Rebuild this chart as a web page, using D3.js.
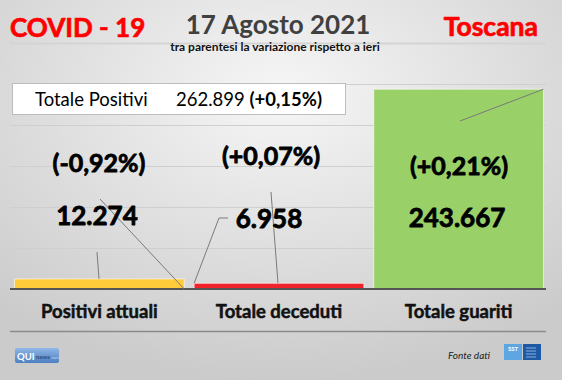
<!DOCTYPE html>
<html>
<head>
<meta charset="utf-8">
<script src="https://cdn.jsdelivr.net/npm/d3@7"></script>
<style>
  body { margin: 0; }
  svg { display: block; font-family: Lato, "Open Sans", sans-serif; }
  .heavy { paint-order: stroke; stroke-linejoin: round; }
</style>
</head>
<body>
<div class="canvas"></div>
<script>
const categories = ['Positivi attuali', 'Totale deceduti', 'Totale guariti'];
const values = [12274, 6958, 243667];
const valueLabels = ['12.274', '6.958', '243.667'];
const changeLabels = ['(-0,92%)', '(+0,07%)', '(+0,21%)'];
const barColors = ['#fecb3a', '#f2222a', '#99d068'];
const yTicks = [0, 50000, 100000, 150000, 200000, 250000];

const dims = { width: 562, height: 380 };
const plot = { left: 10, right: 548, top: 84, bottom: 289 };

const svg = d3
  .select('.canvas')
  .append('svg')
  .attr('width', dims.width)
  .attr('height', dims.height);

// background
const defs = svg.append('defs');
const bg = defs
  .append('radialGradient')
  .attr('id', 'bg')
  .attr('cx', '50%')
  .attr('cy', '25%')
  .attr('r', '75%');
bg.append('stop').attr('offset', '0%').attr('stop-color', '#f6f6f6');
bg.append('stop').attr('offset', '100%').attr('stop-color', '#cbcbcb');

svg
  .append('rect')
  .attr('width', dims.width)
  .attr('height', dims.height)
  .attr('fill', 'url(#bg)');

// header
svg
  .append('text')
  .attr('class', 'heavy')
  .attr('x', 10)
  .attr('y', 37)
  .attr('fill', '#ff0000')
  .attr('stroke', '#ff0000')
  .attr('stroke-width', 0.7)
  .attr('font-size', 26)
  .attr('font-weight', 'bold')
  .text('COVID - 19');

svg
  .append('text')
  .attr('x', 278)
  .attr('y', 34)
  .attr('text-anchor', 'middle')
  .attr('fill', '#404040')
  .attr('font-size', 26)
  .attr('font-weight', 'bold')
  .text('17 Agosto 2021');

svg
  .append('text')
  .attr('class', 'heavy')
  .attr('x', 538)
  .attr('y', 36)
  .attr('text-anchor', 'end')
  .attr('fill', '#ff0000')
  .attr('stroke', '#ff0000')
  .attr('stroke-width', 0.7)
  .attr('font-size', 26.5)
  .attr('font-weight', 'bold')
  .text('Toscana');

svg
  .append('line')
  .attr('x1', 10)
  .attr('x2', 546)
  .attr('y1', 43.5)
  .attr('y2', 43.5)
  .attr('stroke', '#d4d4d4')
  .attr('stroke-width', 2);

svg
  .append('text')
  .attr('x', 275)
  .attr('y', 51)
  .attr('text-anchor', 'middle')
  .attr('fill', '#111')
  .attr('font-size', 12)
  .attr('font-weight', 'bold')
  .text('tra parentesi la variazione rispetto a ieri');

// scales
const x = d3
  .scaleBand()
  .domain(categories)
  .range([plot.left, plot.right])
  .paddingInner(0.055)
  .paddingOuter(0.025);

const y = d3
  .scaleLinear()
  .domain([0, 250000])
  .range([plot.bottom, plot.top]);

// gridlines
const grid = svg
  .append('g')
  .attr('transform', `translate(${plot.left}, 0)`)
  .call(
    d3
      .axisLeft(y)
      .tickValues(yTicks.slice(1))
      .tickSize(-(546 - plot.left))
      .tickFormat('')
  );
grid.select('.domain').remove();
grid.selectAll('.tick line').attr('stroke', '#cfcfcf').attr('stroke-width', 1);

// bars
svg
  .append('g')
  .selectAll('rect')
  .data(values)
  .enter()
  .append('rect')
  .attr('x', (d, i) => x(categories[i]))
  .attr('y', (d) => y(d))
  .attr('width', x.bandwidth())
  .attr('height', (d) => y(0) - y(d))
  .attr('fill', (d, i) => barColors[i])
  .attr('stroke', 'rgba(255,255,255,0.6)')
  .attr('stroke-width', 1);

// baseline axis
const xAxis = svg
  .append('g')
  .attr('transform', `translate(0, ${plot.bottom})`)
  .call(d3.axisBottom(x).tickSize(0).tickPadding(16));
xAxis
  .select('.domain')
  .attr('stroke', '#555')
  .attr('stroke-width', 2)
  .attr('d', `M${plot.left},0H546`);
xAxis
  .selectAll('.tick text')
  .attr('class', 'heavy')
  .attr('fill', '#111')
  .attr('stroke', '#111')
  .attr('stroke-width', 0.5)
  .attr('font-family', 'Lato, sans-serif')
  .attr('font-size', 18.5)
  .attr('font-weight', 'bold');

// leader lines (label -> bar)
const leaders = [
  [[97, 252], [99, y(values[0])]],
  [[100, 199], [x(categories[0]) + x.bandwidth(), y(0)]],
  [[228, 218], [219, 218], [x(categories[1]), y(values[1])]],
  [[271, 192], [278, y(values[1])]],
  [[460, 121], [x(categories[2]) + x.bandwidth(), y(values[2])]],
];
svg
  .append('g')
  .selectAll('path')
  .data(leaders)
  .enter()
  .append('path')
  .attr('d', (d) => d3.line()(d))
  .attr('fill', 'none')
  .attr('stroke', '#7a7a7a')
  .attr('stroke-width', 1);

// value labels
const valuePos = [[97, 225], [269, 228], [457, 227]];
svg
  .append('g')
  .selectAll('text')
  .data(valueLabels)
  .enter()
  .append('text')
  .attr('class', 'heavy')
  .attr('x', (d, i) => valuePos[i][0])
  .attr('y', (d, i) => valuePos[i][1])
  .attr('text-anchor', 'middle')
  .attr('fill', '#000')
  .attr('stroke', '#000')
  .attr('stroke-width', 0.8)
  .attr('font-size', 26)
  .attr('font-weight', 'bold')
  .text((d) => d);

const changePos = [[99, 172], [271, 165], [459, 175]];
svg
  .append('g')
  .selectAll('text')
  .data(changeLabels)
  .enter()
  .append('text')
  .attr('class', 'heavy')
  .attr('x', (d, i) => changePos[i][0])
  .attr('y', (d, i) => changePos[i][1])
  .attr('text-anchor', 'middle')
  .attr('fill', '#000')
  .attr('stroke', '#000')
  .attr('stroke-width', 0.8)
  .attr('font-size', 25)
  .attr('font-weight', 'bold')
  .text((d) => d);

// total positives box
svg
  .append('rect')
  .attr('x', 12.5)
  .attr('y', 83.5)
  .attr('width', 333)
  .attr('height', 31)
  .attr('fill', '#fff')
  .attr('stroke', '#bdbdbd')
  .attr('stroke-width', 1);

const totText = svg
  .append('text')
  .attr('x', 35)
  .attr('y', 105.5)
  .attr('fill', '#000')
  .attr('font-size', 18.5);
totText.append('tspan').text('Totale Positivi');
totText.append('tspan').attr('x', 176).text('262.899 ');
totText.append('tspan').attr('font-weight', 'bold').text('(+0,15%)');

// footer
svg
  .append('line')
  .attr('x1', 10)
  .attr('x2', 546)
  .attr('y1', 331.5)
  .attr('y2', 331.5)
  .attr('stroke', '#8a8a8a')
  .attr('stroke-width', 1.5);

const qui = svg.append('g').attr('transform', 'translate(15, 348)');
const quiGrad = defs
  .append('linearGradient')
  .attr('id', 'qui')
  .attr('x1', 0)
  .attr('x2', 0)
  .attr('y1', 0)
  .attr('y2', 1);
quiGrad.append('stop').attr('offset', '0%').attr('stop-color', '#8fb6e6');
quiGrad.append('stop').attr('offset', '100%').attr('stop-color', '#4d7fc0');
qui
  .append('rect')
  .attr('width', 44)
  .attr('height', 15)
  .attr('rx', 2)
  .attr('fill', 'url(#qui)');
qui
  .append('text')
  .attr('x', 2)
  .attr('y', 11.5)
  .attr('fill', '#fff')
  .attr('font-size', 9.5)
  .attr('font-weight', 'bold')
  .text('QUI');
qui
  .append('text')
  .attr('x', 21)
  .attr('y', 11)
  .attr('fill', '#2c4f80')
  .attr('font-size', 6)
  .attr('font-weight', 'bold')
  .text('news');
qui
  .append('text')
  .attr('x', 36)
  .attr('y', 11)
  .attr('fill', '#c9dbf2')
  .attr('font-size', 4.5)
  .text('.net');

svg
  .append('text')
  .attr('x', 490)
  .attr('y', 359)
  .attr('text-anchor', 'end')
  .attr('fill', '#222')
  .attr('font-size', 10)
  .attr('font-style', 'italic')
  .text('Fonte dati');

const sst = svg.append('g').attr('transform', 'translate(504, 344)');
sst
  .append('rect')
  .attr('width', 18)
  .attr('height', 16)
  .attr('fill', '#5ea6e2');
sst
  .append('text')
  .attr('x', 9)
  .attr('y', 7)
  .attr('text-anchor', 'middle')
  .attr('fill', '#fff')
  .attr('font-size', 6)
  .attr('font-weight', 'bold')
  .text('SST');
sst
  .append('rect')
  .attr('x', 19)
  .attr('width', 18)
  .attr('height', 16)
  .attr('fill', '#1d5aa6');
sst
  .selectAll('.sstline')
  .data([4, 7, 10, 13])
  .enter()
  .append('line')
  .attr('x1', 22)
  .attr('x2', 32)
  .attr('y1', (d) => d)
  .attr('y2', (d) => d)
  .attr('stroke', '#a9c5ea')
  .attr('stroke-width', 0.8);
</script>
</body>
</html>
